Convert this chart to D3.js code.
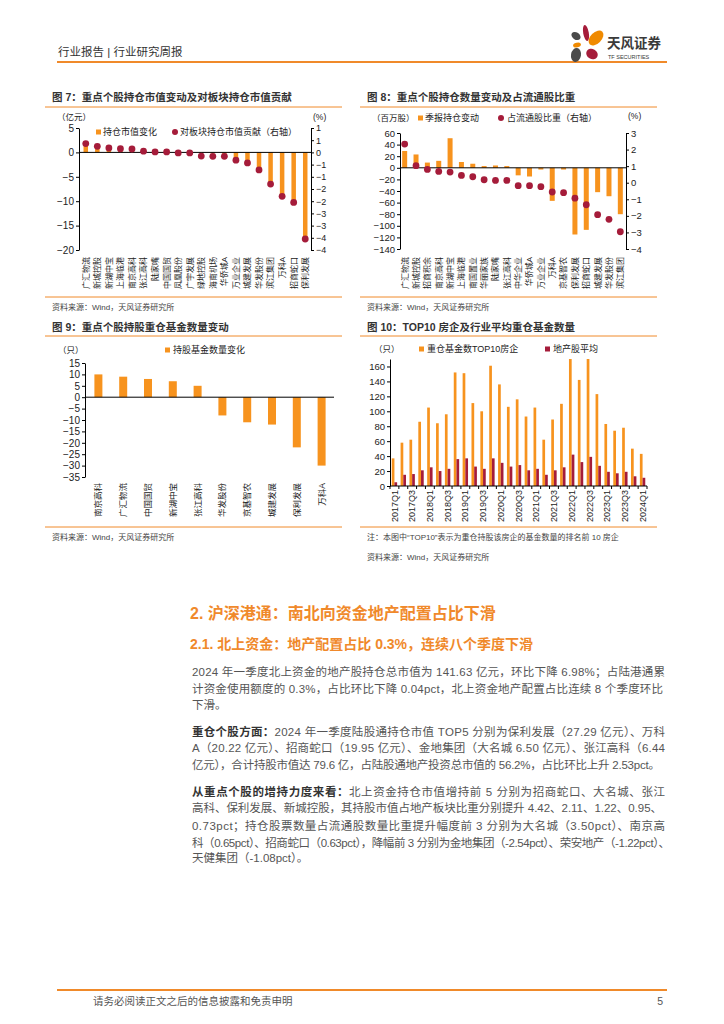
<!DOCTYPE html>
<html><head><meta charset="utf-8">
<script src="https://cdn.jsdelivr.net/npm/d3@7"></script>
<style>
body{margin:0;background:#fff;}
svg{display:block;}
text{font-family:"Liberation Sans","Noto Sans CJK SC",sans-serif;}
</style></head><body>
<svg id="c" width="724" height="1024"></svg>
<script>
// ---------- DATA ----------
const c7Cats = ["广汇物流","新城控股","新湖中宝","上海临港","南京高科","张江高科","陆家嘴","中国国贸","凤凰股份","广宇发展","绿地控股","海南机场","华侨城A","万业企业","城建发展","华发股份","滨江集团","万科A","招商蛇口","保利发展"];
const c7Value = [1.4,1.0,0.6,0.5,0.4,0.3,0.2,0.2,0.1,0.1,-0.1,-0.2,-0.3,-1.6,-2.2,-3.9,-6.5,-9.0,-10.3,-17.7];
const c7Contrib = [0.36,0.25,0.18,0.15,0.14,0.05,0.02,0.02,-0.02,-0.02,-0.15,-0.16,-0.16,-0.32,-0.43,-0.72,-1.3,-1.8,-2.05,-3.55];
const c7LeftTicks = [5,0,-5,-10,-15,-20];
const c7RightTicks = [1,0.5,0,-0.5,-1,-1.5,-2,-2.5,-3,-3.5,-4];

const c8Cats = ["广汇物流","新城控股","招商积余","南京高科","新湖中宝","上海临港","南国置业","华丽家族","陆家嘴","张江高科","中华企业","华侨城A","万业企业","万科A","京基智农","保利发展","招商蛇口","城建发展","华发股份","滨江集团"];
const c8Shares = [29,23,9,12,51,10,7,3,4,3,-13,-15,-3,-57,-3,-115,-107,-42,-49,-80];
const c8Ratio = [2.33,1.03,0.8,0.68,0.64,0.44,0.36,0.18,0.14,0.14,-0.18,-0.18,-0.24,-0.56,-0.6,-0.93,-1.33,-1.93,-2.21,-2.96];
const c8LeftTicks = [60,40,20,0,-20,-40,-60,-80,-100,-120,-140];
const c8RightTicks = [3,2,1,0,-1,-2,-3,-4];

const c9Cats = ["南京高科","广汇物流","中国国贸","新湖中宝","张江高科","华发股份","京基智农","城建发展","保利发展","万科A"];
const c9Funds = [10,9,8,7,5,-8,-11,-12,-22,-30];
const c9Ticks = [15,10,5,0,-5,-10,-15,-20,-25,-30,-35];

const c10Quarters = ["2017Q1","2017Q2","2017Q3","2017Q4","2018Q1","2018Q2","2018Q3","2018Q4","2019Q1","2019Q2","2019Q3","2019Q4","2020Q1","2020Q2","2020Q3","2020Q4","2021Q1","2021Q2","2021Q3","2021Q4","2022Q1","2022Q2","2022Q3","2022Q4","2023Q1","2023Q2","2023Q3","2023Q4","2024Q1"];
const c10Top10 = [37,58,62,86,105,84,96,152,151,111,100,161,136,106,116,93,105,62,89,110,170,142,170,123,83,74,78,50,43];
const c10Avg = [5,15,16,21,25,20,23,36,37,26,23,37,31,26,28,21,23,15,21,25,42,32,39,27,19,17,19,13,11];
const c10Ticks = [0,20,40,60,80,100,120,140,160];
const c10LabelQuarters = c10Quarters.filter((q,i)=>i%2===0);

// ---------- STYLE ----------
const ORANGE = "#F7931E", RED = "#A51C3A", LINE = "#F08A2A", TXT = "#222";
const svg = d3.select("#c");
svg.append("rect").attr("width",724).attr("height",1024).attr("fill","#fff");

function fmtMinus(v){ return v<0 ? "\u2212"+Math.abs(v) : String(v); }
function fmtRound(v){ const r = v<0 ? -Math.round(-v) : Math.round(v); return r<0 ? "\u2212"+Math.abs(r) : String(r); }

function styleAxis(g, fs){
  g.attr("font-family",null).attr("font-size",null);
  g.select(".domain").attr("stroke","#000").attr("stroke-width",1);
  g.selectAll(".tick line").attr("stroke","#000");
  g.selectAll(".tick text").attr("font-size",fs).attr("fill",TXT).attr("font-family","Liberation Sans, Arial, sans-serif");
}
function catLabels(x, cats, yTop, fs){
  svg.append("g").selectAll("text").data(cats).join("text")
    .attr("transform", d=>`translate(${x(d)+x.bandwidth()/2},${yTop}) rotate(-90)`)
    .attr("text-anchor","end").attr("dy","0.36em").attr("font-size",fs).attr("fill",TXT).text(d=>d);
}
function title(x,y,t){ svg.append("text").attr("x",x).attr("y",y).attr("dominant-baseline","central").attr("font-size",10.5).attr("font-weight","bold").attr("fill","#333").text(t); }
function hline(x1,x2,y,w){ svg.append("line").attr("x1",x1).attr("x2",x2).attr("y1",y).attr("y2",y).attr("stroke",LINE).attr("stroke-width",w||1); }
function small(x,y,t,fs,anchor){ return svg.append("text").attr("x",x).attr("y",y).attr("dominant-baseline","central").attr("font-size",fs||8).attr("fill","#444").attr("text-anchor",anchor||"start").text(t); }

// ---------- HEADER ----------
svg.append("text").attr("x",58).attr("y",52).attr("dominant-baseline","central").attr("font-size",11.5).attr("fill","#333").text("行业报告 | 行业研究周报");
hline(57,667,62,2);
const logo = svg.append("g");
[[586,33,2.8,8,-10,RED],[596,38,9,5.5,-45,"#F08A00"],[576,36,5,3.6,35,"#4a4a4a"],[577,45,4,2.3,-15,"#F08A00"],[576,55,5,7,10,"#4a4a4a"],[592,54,6,5,30,RED]].forEach(p=>{
  logo.append("ellipse").attr("cx",p[0]).attr("cy",p[1]).attr("rx",p[2]).attr("ry",p[3]).attr("transform",`rotate(${p[4]},${p[0]},${p[1]})`).attr("fill",p[5]);
});
svg.append("text").attr("x",607).attr("y",43).attr("dominant-baseline","central").attr("font-size",13.5).attr("font-weight","bold").attr("fill","#3a3a3a").text("天风证券");
svg.append("text").attr("x",608).attr("y",57).attr("dominant-baseline","central").attr("font-size",5.5).attr("fill","#3a3a3a").text("TF SECURITIES");

// ---------- CHART 7 ----------
title(52,97,"图 7：重点个股持仓市值变动及对板块持仓市值贡献");
hline(45,342,107);
small(57,117,"（亿元）",8.5).attr("fill",TXT);
small(313,117,"(%)",8.5).attr("fill",TXT);
{
  const x = d3.scaleBand().domain(c7Cats).range([80,311]);
  const yL = d3.scaleLinear().domain([-20,5]).range([250,128]);
  const yR = d3.scaleLinear().domain([-4,1]).range([250,128]);
  const gL = svg.append("g").attr("transform","translate(79,0)").call(d3.axisLeft(yL).tickValues(c7LeftTicks).tickSize(3).tickSizeOuter(0).tickPadding(2).tickFormat(fmtMinus));
  styleAxis(gL,10);
  const gR = svg.append("g").attr("transform","translate(311,0)").call(d3.axisRight(yR).tickValues(c7RightTicks).tickSize(3).tickSizeOuter(0).tickPadding(2).tickFormat(fmtRound));
  styleAxis(gR,9);
  const bw = 4.5;
  svg.append("g").selectAll("rect").data(c7Value).join("rect")
    .attr("x",(d,i)=>x(c7Cats[i])+x.bandwidth()/2-bw/2).attr("width",bw)
    .attr("y",d=>yL(Math.max(0,d))).attr("height",d=>Math.abs(yL(d)-yL(0))).attr("fill",ORANGE);
  svg.append("line").attr("x1",79).attr("x2",311).attr("y1",yL(0)).attr("y2",yL(0)).attr("stroke","#000");
  svg.append("g").selectAll("circle").data(c7Contrib).join("circle")
    .attr("cx",(d,i)=>x(c7Cats[i])+x.bandwidth()/2).attr("cy",d=>yR(d)).attr("r",3.4).attr("fill",RED);
  catLabels(x,c7Cats,257,8);
  svg.append("rect").attr("x",96).attr("y",129.5).attr("width",5).attr("height",5).attr("fill",ORANGE);
  small(103,132,"持仓市值变化",9).attr("fill",TXT);
  svg.append("circle").attr("cx",175).attr("cy",132).attr("r",3).attr("fill",RED);
  small(180,132,"对板块持仓市值贡献（右轴）",9).attr("fill",TXT);
}
hline(45,342,297);
small(52,307,"资料来源：Wind，天风证券研究所",8);

// ---------- CHART 8 ----------
title(367,97,"图 8：重点个股持仓数量变动及占流通股比重");
hline(360,657,107);
small(372,118,"（百万股）",8.5).attr("fill",TXT);
small(628,116,"(%)",8.5).attr("fill",TXT);
{
  const x = d3.scaleBand().domain(c8Cats).range([399,626]);
  const yL = d3.scaleLinear().domain([-140,60]).range([249,133]);
  const yR = d3.scaleLinear().domain([-4,3]).range([249,133]);
  const gL = svg.append("g").attr("transform","translate(400,0)").call(d3.axisLeft(yL).tickValues(c8LeftTicks).tickSize(3).tickSizeOuter(0).tickPadding(2).tickFormat(fmtMinus));
  styleAxis(gL,9.5);
  const gR = svg.append("g").attr("transform","translate(626,0)").call(d3.axisRight(yR).tickValues(c8RightTicks).tickSize(3).tickSizeOuter(0).tickPadding(2).tickFormat(fmtMinus));
  styleAxis(gR,9.5);
  const bw = 5;
  svg.append("g").selectAll("rect").data(c8Shares).join("rect")
    .attr("x",(d,i)=>x(c8Cats[i])+x.bandwidth()/2-bw/2).attr("width",bw)
    .attr("y",d=>yL(Math.max(0,d))).attr("height",d=>Math.abs(yL(d)-yL(0))).attr("fill",ORANGE);
  svg.append("line").attr("x1",400).attr("x2",626).attr("y1",yL(0)).attr("y2",yL(0)).attr("stroke","#000");
  svg.append("g").selectAll("circle").data(c8Ratio).join("circle")
    .attr("cx",(d,i)=>x(c8Cats[i])+x.bandwidth()/2).attr("cy",d=>yR(d)).attr("r",3.4).attr("fill",RED);
  catLabels(x,c8Cats,257,8);
  svg.append("rect").attr("x",418).attr("y",115.5).attr("width",5).attr("height",5).attr("fill",ORANGE);
  small(425,118,"季报持仓变动",9).attr("fill",TXT);
  svg.append("circle").attr("cx",501).attr("cy",118).attr("r",3).attr("fill",RED);
  small(507,118,"占流通股比重（右轴）",9).attr("fill",TXT);
}
hline(360,657,297);
small(367,307,"资料来源：Wind，天风证券研究所",8);

// ---------- CHART 9 ----------
title(52,327,"图 9：重点个股持股重仓基金数量变动");
hline(45,342,336);
small(58,350,"（只）",8.5).attr("fill",TXT);
{
  const x = d3.scaleBand().domain(c9Cats).range([86,334]);
  const y = d3.scaleLinear().domain([-35,15]).range([477,363]);
  const g = svg.append("g").attr("transform","translate(85,0)").call(d3.axisLeft(y).tickValues(c9Ticks).tickSize(3).tickSizeOuter(0).tickPadding(2).tickFormat(fmtMinus));
  styleAxis(g,10);
  const bw = 8;
  svg.append("g").selectAll("rect").data(c9Funds).join("rect")
    .attr("x",(d,i)=>x(c9Cats[i])+x.bandwidth()/2-bw/2).attr("width",bw)
    .attr("y",d=>y(Math.max(0,d))).attr("height",d=>Math.abs(y(d)-y(0))).attr("fill",ORANGE);
  svg.append("line").attr("x1",85).attr("x2",334).attr("y1",y(0)).attr("y2",y(0)).attr("stroke","#000");
  catLabels(x,c9Cats,483,8.5);
  svg.append("rect").attr("x",165).attr("y",347.5).attr("width",5).attr("height",5).attr("fill",ORANGE);
  small(173,350,"持股基金数量变化",9).attr("fill",TXT);
}
hline(45,342,527);
small(52,537,"资料来源：Wind，天风证券研究所",8);

// ---------- CHART 10 ----------
title(367,327,"图 10：TOP10 房企及行业平均重仓基金数量");
hline(360,657,336);
small(374,349,"（只）",8.5).attr("fill",TXT);
{
  const x = d3.scaleBand().domain(c10Quarters).range([390,647]);
  const inner = d3.scaleBand().domain(["top","avg"]).range([0,5.4]);
  const y = d3.scaleLinear().domain([0,170]).range([486,359]);
  const g = svg.append("g").attr("transform","translate(390,0)").call(d3.axisLeft(y).tickValues(c10Ticks).tickSize(3).tickSizeOuter(0).tickPadding(2));
  styleAxis(g,9.5);
  const off = (x.bandwidth()-5.4)/2;
  svg.append("g").selectAll("rect").data(c10Top10).join("rect")
    .attr("x",(d,i)=>x(c10Quarters[i])+off+inner("top")).attr("width",inner.bandwidth())
    .attr("y",d=>y(d)).attr("height",d=>y(0)-y(d)).attr("fill",ORANGE);
  svg.append("g").selectAll("rect").data(c10Avg).join("rect")
    .attr("x",(d,i)=>x(c10Quarters[i])+off+inner("avg")).attr("width",inner.bandwidth())
    .attr("y",d=>y(d)).attr("height",d=>y(0)-y(d)).attr("fill",RED);
  svg.append("line").attr("x1",390).attr("x2",647).attr("y1",y(0)).attr("y2",y(0)).attr("stroke","#000");
  svg.append("g").selectAll("line").data(c10Quarters.concat(["end"])).join("line")
    .attr("x1",(d,i)=>390+i*x.step()).attr("x2",(d,i)=>390+i*x.step()).attr("y1",y(0)).attr("y2",y(0)+3).attr("stroke","#000");
  svg.append("g").selectAll("text").data(c10LabelQuarters).join("text")
    .attr("transform",d=>`translate(${x(d)+x.bandwidth()/2},${490}) rotate(-90)`)
    .attr("text-anchor","end").attr("dy","0.35em").attr("font-size",9).attr("fill",TXT).text(d=>d);
  svg.append("rect").attr("x",419).attr("y",346.5).attr("width",5).attr("height",5).attr("fill",ORANGE);
  small(427,349,"重仓基金数TOP10房企",9).attr("fill",TXT);
  svg.append("rect").attr("x",545).attr("y",346.5).attr("width",5).attr("height",5).attr("fill",RED);
  small(553,349,"地产股平均",9).attr("fill",TXT);
}
hline(360,657,527);
small(367,537,"注：本图中“TOP10”表示为重仓持股该房企的基金数量的排名前 10 房企",8);
small(367,557,"资料来源：Wind，天风证券研究所",8);

// ---------- TEXT ----------
const HEAD = "#F0892B";
svg.append("text").attr("x",190).attr("y",613).attr("dominant-baseline","central").attr("font-size",16).attr("font-weight","bold").attr("fill",HEAD).text("2. 沪深港通：南北向资金地产配置占比下滑");
svg.append("text").attr("x",190).attr("y",644).attr("dominant-baseline","central").attr("font-size",14).attr("font-weight","bold").attr("fill",HEAD).text("2.1. 北上资金：地产配置占比 0.3%，连续八个季度下滑");

const bodyLines = [
  {y:672,b:"",t:"2024 年一季度北上资金的地产股持仓总市值为 141.63 亿元，环比下降 6.98%；占陆港通累",e:665},
  {y:689,b:"",t:"计资金使用额度的 0.3%，占比环比下降 0.04pct，北上资金地产配置占比连续 8 个季度环比",e:663},
  {y:705,b:"",t:"下滑。",e:0},
  {y:732,b:"重仓个股方面：",t:"2024 年一季度陆股通持仓市值 TOP5 分别为保利发展（27.29 亿元）、万科",e:665},
  {y:748,b:"",t:"A（20.22 亿元）、招商蛇口（19.95 亿元）、金地集团（大名城 6.50 亿元）、张江高科（6.44",e:665},
  {y:765,b:"",t:"亿元），合计持股市值达 79.6 亿，占陆股通地产投资总市值的 56.2%，占比环比上升 2.53pct。",e:660},
  {y:792,b:"从重点个股的增持力度来看：",t:"北上资金持仓市值增持前 5 分别为招商蛇口、大名城、张江",e:665},
  {y:808,b:"",t:"高科、保利发展、新城控股，其持股市值占地产板块比重分别提升 4.42、2.11、1.22、0.95、",e:662},
  {y:826,b:"",t:"0.73pct；持仓股票数量占流通股数量比重提升幅度前 3 分别为大名城（3.50pct）、南京高",e:665},
  {y:843,b:"",t:"科（0.65pct）、招商蛇口（0.63pct），降幅前 3 分别为金地集团（-2.54pct）、荣安地产（-1.22pct）、",e:670},
  {y:858,b:"",t:"天健集团（-1.08pct）。",e:0}
];
bodyLines.forEach(l=>{
  const t = svg.append("text").attr("x",192).attr("y",l.y).attr("dominant-baseline","central").attr("font-size",11.5).attr("fill","#555");
  if(l.b) t.append("tspan").attr("font-weight","bold").attr("fill","#333").text(l.b);
  t.append("tspan").text(l.t);
  if(l.e) t.attr("textLength",l.e-192).attr("lengthAdjust","spacing");
});

// ---------- FOOTER ----------
hline(57,667,990,2);
svg.append("text").attr("x",93).attr("y",1001).attr("dominant-baseline","central").attr("font-size",10.5).attr("fill","#555").text("请务必阅读正文之后的信息披露和免责申明");
svg.append("text").attr("x",663).attr("y",1001).attr("dominant-baseline","central").attr("font-size",10.5).attr("fill","#555").attr("text-anchor","end").text("5");
</script>
</body></html>
